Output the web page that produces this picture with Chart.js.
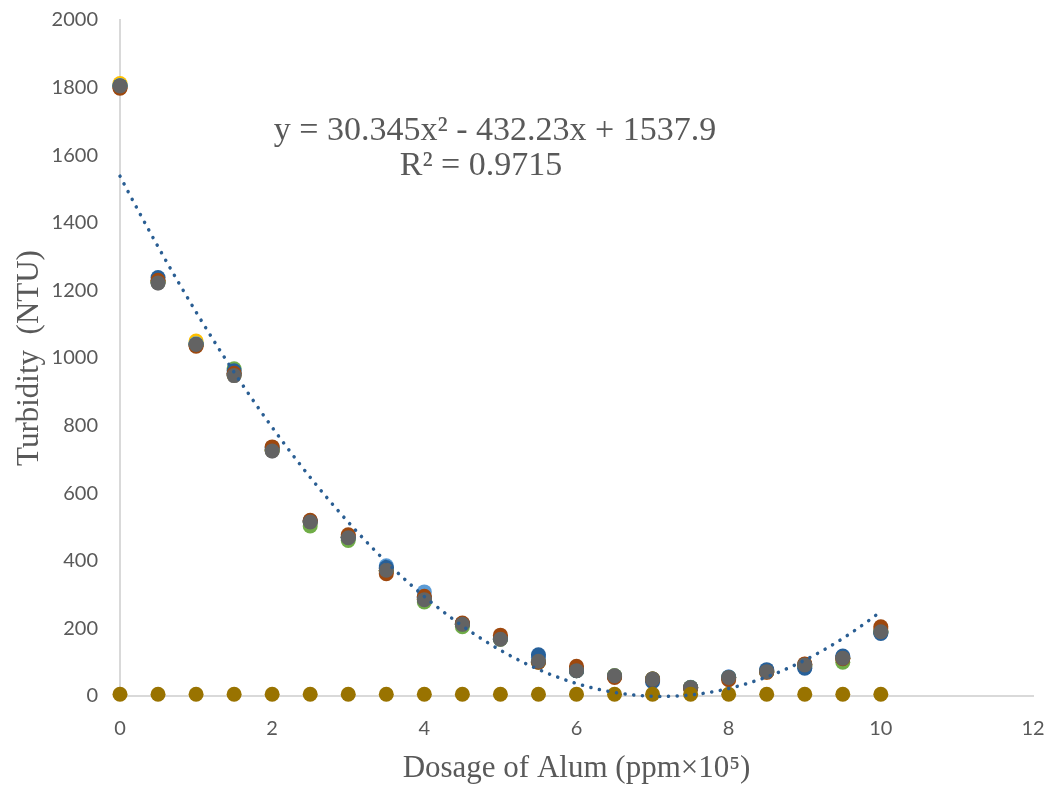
<!DOCTYPE html>
<html>
<head>
<meta charset="utf-8">
<title>Turbidity vs Dosage of Alum</title>
<script src="https://cdn.jsdelivr.net/npm/chart.js@4.4.1/dist/chart.umd.min.js"></script>
<style>
  html, body { margin: 0; padding: 0; background: #fff; }
  #wrap { width: 1052px; height: 787px; position: relative; }
</style>
</head>
<body>
<div id="wrap"><canvas id="turbidityChart"></canvas></div>
<script>
// dosage of alum (ppm x 10^5)
const dosage = [0, 0.5, 1, 1.5, 2, 2.5, 3, 3.5, 4, 4.5, 5, 5.5, 6, 6.5, 7, 7.5, 8, 8.5, 9, 9.5, 10];

// turbidity readings (NTU), one array per run
const run1 = [1805, 1228, 1042, 955, 730, 515, 470, 378, 292, 212, 170, 115, 76, 58, 46, 25, 56, 75, 84, 114, 188];
const run2 = [1800, 1225, 1038, 952, 728, 517, 472, 368, 290, 214, 175, 104, 82, 57, 48, 24, 52, 72, 94, 112, 200];
const run3 = [1805, 1222, 1040, 948, 725, 515, 468, 372, 285, 212, 168, 103, 75, 60, 50, 25, 55, 72, 92, 112, 190];
const run4 = [1812, 1225, 1050, 950, 727, 515, 470, 372, 286, 212, 170, 104, 76, 60, 50, 25, 55, 72, 92, 112, 192];
const run5 = [1806, 1224, 1042, 952, 728, 516, 470, 385, 308, 213, 170, 110, 76, 60, 50, 26, 56, 74, 92, 114, 192];
const run6 = [1805, 1225, 1040, 968, 728, 503, 460, 370, 278, 205, 168, 100, 75, 60, 50, 25, 55, 72, 88, 100, 188];
const run7 = [1805, 1238, 1040, 962, 735, 518, 470, 380, 290, 214, 170, 122, 75, 58, 42, 24, 55, 78, 82, 118, 185];
const run8 = [1798, 1230, 1035, 955, 737, 520, 477, 362, 295, 216, 180, 100, 88, 55, 50, 22, 48, 70, 95, 110, 205];
const run9 = [1805, 1222, 1040, 948, 725, 515, 468, 372, 285, 212, 168, 103, 75, 60, 50, 25, 55, 72, 92, 112, 190];
const run10 = [5, 5, 5, 5, 5, 5, 5, 5, 5, 5, 5, 5, 5, 5, 5, 5, 5, 5, 5, 5, 5];

const runColors = ["#4472C4", "#ED7D31", "#A5A5A5", "#FFC000", "#5B9BD5", "#70AD47", "#26609A", "#9E480E", "#636363", "#997300"];
const runs = [run1, run2, run3, run4, run5, run6, run7, run8, run9, run10];

// polynomial trendline as printed on the chart: c0 + c1 x + c2 x^2
const trendCoef = [1537.9, -432.23, 30.345];
const trendLabel = ["y = 30.345x\u00B2 - 432.23x + 1537.9", "R\u00B2 = 0.9715"];

const xTicks = [0, 2, 4, 6, 8, 10, 12];
const yTicks = [0, 200, 400, 600, 800, 1000, 1200, 1400, 1600, 1800, 2000];

const trendX = Array.from({ length: 101 }, (_, i) => i / 10);
const trendPoints = trendX.map((x) => ({ x, y: trendCoef[0] + trendCoef[1] * x + trendCoef[2] * x * x }));

const toPoints = (values) => values.map((y, i) => ({ x: dosage[i], y }));

const scatterSets = runs.map((values, i) => ({
  label: "Series" + (i + 1),
  data: toPoints(values),
  backgroundColor: runColors[i],
  borderColor: runColors[i],
  borderWidth: 0,
  pointRadius: 7.5,
  showLine: false,
  clip: false,
  order: 10 - i
}));

const trendSet = {
  type: "line",
  label: "Trend",
  data: trendPoints,
  borderColor: "#2A5E93",
  borderWidth: 3.5,
  borderDash: [0.1, 8.6],
  borderCapStyle: "round",
  pointRadius: 0,
  fill: false,
  tension: 0,
  clip: false,
  order: 0
};

const labelText = {
  id: "labelText",
  afterDraw(chart) {
    const { ctx } = chart;
    ctx.save();
    ctx.fillStyle = "#595959";
    ctx.font = "34px 'Liberation Serif', 'Times New Roman', serif";
    ctx.textAlign = "center";
    ctx.textBaseline = "middle";
    ctx.fillText(trendLabel[0], 495, 131);
    ctx.fillText(trendLabel[1], 481, 166);
    ctx.restore();
  }
};

const tickFont = { family: "Lato", size: 20 };
const titleFont = { family: "'Liberation Serif', 'Times New Roman', serif", size: 31 };

new Chart(document.getElementById("turbidityChart"), {
  type: "scatter",
  data: { datasets: [...scatterSets, trendSet] },
  options: {
    responsive: true,
    maintainAspectRatio: false,
    animation: false,
    layout: { padding: { left: 10, right: 19, top: 20, bottom: 0 } },
    plugins: { legend: { display: false }, tooltip: { enabled: false } },
    scales: {
      x: {
        type: "linear",
        min: 0,
        max: 12,
        afterBuildTicks: (scale) => { scale.ticks = xTicks.map((value) => ({ value })); },
        grid: { display: false },
        border: { display: true, color: "#D9D9D9", width: 2 },
        ticks: { color: "#595959", font: tickFont, padding: 13, callback: (value) => String(value) },
        title: { display: true, text: "Dosage of Alum (ppm\u00D710\u2075)", color: "#595959", font: titleFont, padding: { top: 0, bottom: 0 } },
        afterFit: (scale) => { scale.height = 91; scale.paddingLeft = 0; scale.paddingRight = 0; }
      },
      y: {
        type: "linear",
        min: 0,
        max: 2000,
        afterBuildTicks: (scale) => { scale.ticks = yTicks.map((value) => ({ value })); },
        grid: { display: false },
        border: { display: true, color: "#D9D9D9", width: 2 },
        ticks: { color: "#595959", font: tickFont, padding: 14, callback: (value) => String(value) },
        title: { display: true, text: "Turbidity  (NTU)", color: "#595959", font: titleFont, padding: { top: 1, bottom: 0 } },
        afterFit: (scale) => { scale.width = 110; scale.paddingTop = 0; scale.paddingBottom = 0; }
      }
    }
  },
  plugins: [labelText]
});
</script>
</body>
</html>
